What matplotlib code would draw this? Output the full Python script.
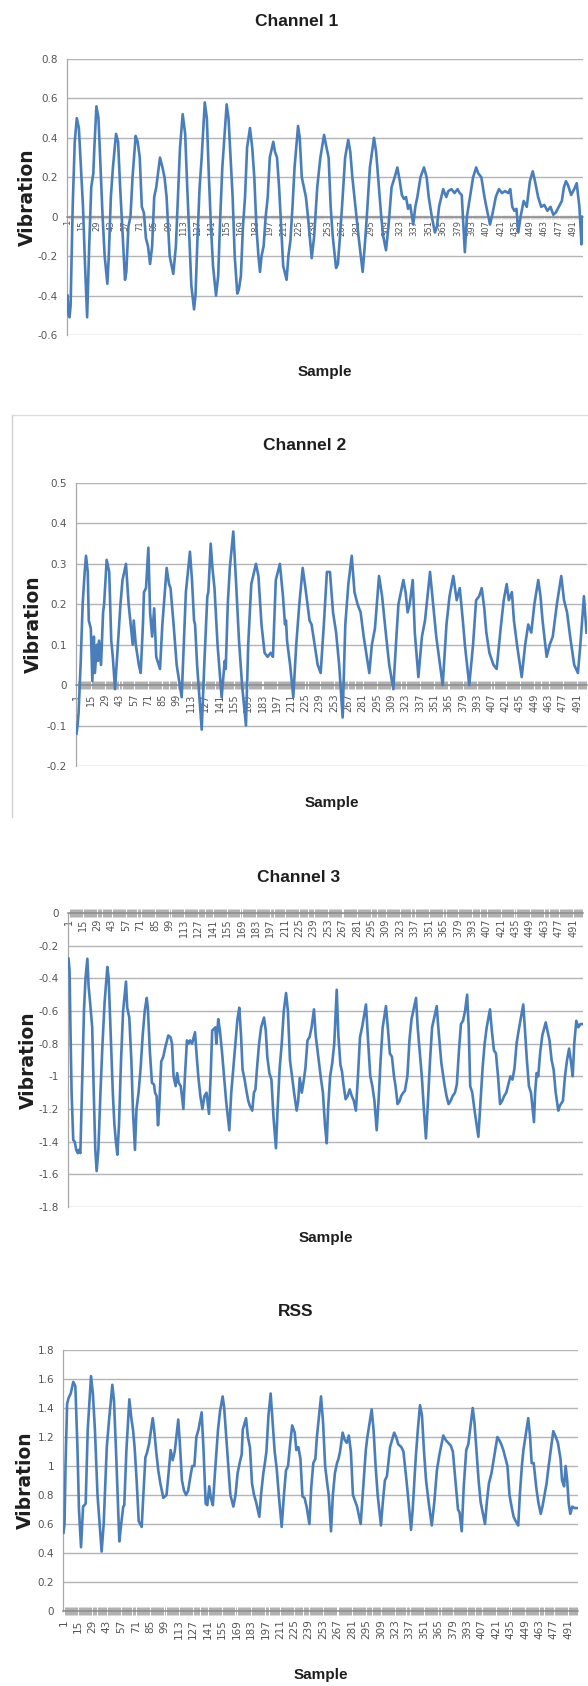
import matplotlib
matplotlib.use("Agg")
import numpy as np
import matplotlib.pyplot as plt
from matplotlib import font_manager as fm
from matplotlib.ticker import MultipleLocator
from matplotlib.lines import Line2D

plt.rcParams['axes.unicode_minus'] = False

# ---------------- data (sample index, vibration) -------------
tick_samples = [1, 15, 29, 43, 57, 71, 85, 99, 113, 127, 141, 155, 169, 183, 197, 211,
                225, 239, 253, 267, 281, 295, 309, 323, 337, 351, 365, 379, 393, 407,
                421, 435, 449, 463, 477, 491]
tick_labels = ["1", "15", "29", "43", "57", "71", "85", "99", "113", "127", "141", "155",
               "169", "183", "197", "211", "225", "239", "253", "267", "281", "295",
               "309", "323", "337", "351", "365", "379", "393", "407", "421", "435",
               "449", "463", "477", "491"]

ch1_sample = [1, 2, 3, 4, 6, 8, 10, 12, 14, 16, 18, 20, 22, 24, 26, 27, 29, 31, 33, 35, 37, 39.6,
              41, 43, 45, 48, 50, 52, 54, 56.7, 58, 60, 62, 64, 67, 69, 71, 73, 75, 77, 79, 81,
              83, 85, 87, 90.6, 93, 95, 97, 100, 103.5, 106, 108, 110, 112.6, 115, 117, 119,
              121, 123.6, 125, 127, 129, 131, 134, 136, 138, 140, 142, 144.9, 147, 149, 151,
              155.2, 157, 159, 161, 163, 165.5, 167, 169, 171, 173, 175, 177.8, 180, 182, 184,
              186, 187.5, 189, 191, 193, 195, 197, 200.4, 202, 204, 206, 208, 210, 213.3, 215,
              217, 219, 221, 224.4, 226, 228, 230, 232, 234, 237.6, 240, 243, 246, 249.6, 252,
              254, 256, 258, 261.2, 263, 265, 267, 270, 273, 275, 277, 280, 283, 287, 289, 291,
              294, 298, 300, 302, 305, 307, 309.6, 312, 315, 318, 320.6, 323, 325, 327, 329,
              331, 333, 336, 338, 340, 343, 346.4, 349, 351, 354, 357, 359, 361, 365, 368, 370,
              373, 376, 379, 381, 383, 386, 388, 391, 394, 397, 399, 402, 405, 408, 410.4, 413,
              416, 419, 422, 425, 428, 430, 432, 434, 436, 437.8, 440, 443, 446, 449, 451.8,
              454, 457, 460, 463, 466, 469, 471.7, 474, 477, 480, 482, 484, 486, 489, 492,
              494.4, 497, 499, 500]
ch1_value = [-0.40, -0.50, -0.51, -0.45, 0.05, 0.38, 0.50, 0.45, 0.25, 0.05, -0.25, -0.51, -0.15,
             0.15, 0.22, 0.35, 0.56, 0.50, 0.25, 0.00, -0.20, -0.34, -0.20, 0.10, 0.25, 0.42,
             0.38, 0.15, -0.05, -0.32, -0.28, -0.05, 0.00, 0.20, 0.41, 0.38, 0.30, 0.05, 0.02,
             -0.11, -0.15, -0.24, -0.15, 0.10, 0.15, 0.30, 0.25, 0.20, 0.10, -0.20, -0.29, -0.15,
             0.10, 0.35, 0.52, 0.42, 0.15, -0.10, -0.35, -0.47, -0.40, -0.10, 0.15, 0.30, 0.58,
             0.50, 0.20, -0.05, -0.25, -0.40, -0.30, 0.00, 0.25, 0.57, 0.50, 0.30, 0.10, -0.20,
             -0.39, -0.37, -0.30, -0.05, 0.10, 0.35, 0.45, 0.35, 0.20, -0.05, -0.20, -0.28,
             -0.20, -0.15, 0.00, 0.10, 0.30, 0.38, 0.33, 0.30, 0.15, -0.05, -0.25, -0.32, -0.20,
             -0.12, 0.05, 0.25, 0.46, 0.40, 0.20, 0.15, 0.10, 0.00, -0.21, -0.10, 0.15, 0.30,
             0.415, 0.35, 0.30, 0.05, -0.10, -0.26, -0.24, -0.10, 0.05, 0.30, 0.39, 0.33, 0.20,
             0.05, -0.10, -0.28, -0.15, 0.00, 0.25, 0.40, 0.33, 0.20, 0.00, -0.10, -0.17, -0.05,
             0.15, 0.20, 0.25, 0.18, 0.11, 0.09, 0.10, 0.04, 0.06, -0.04, 0.05, 0.10, 0.20,
             0.25, 0.20, 0.10, 0.00, -0.08, -0.05, 0.05, 0.14, 0.10, 0.13, 0.14, 0.12, 0.14,
             0.12, 0.11, -0.18, 0.00, 0.10, 0.20, 0.25, 0.22, 0.20, 0.10, 0.02, -0.04, 0.02,
             0.10, 0.14, 0.12, 0.13, 0.12, 0.14, 0.05, 0.03, 0.04, -0.08, 0.00, 0.08, 0.05,
             0.18, 0.23, 0.18, 0.10, 0.05, 0.06, 0.03, 0.05, 0.01, 0.02, 0.05, 0.08, 0.15, 0.18,
             0.16, 0.11, 0.14, 0.17, 0.05, -0.14, 0.00]

ch2_sample = [1, 2, 3, 5, 7, 9, 10.3, 12, 13, 15, 16.5, 18, 19, 21, 22, 23, 25, 27, 28, 30.5, 33,
              35, 36.5, 38.7, 41, 44, 46, 49.4, 52, 54, 56, 57, 59, 62, 63.8, 66, 67, 69, 71.3,
              73, 75, 77, 79, 82.7, 85, 86.5, 89.2, 91.5, 93, 96, 99, 103.9, 106, 108, 112, 114,
              116, 117, 119, 123.5, 126, 129, 130, 132.3, 134, 136, 139, 143, 146, 147, 149,
              151, 154.4, 157, 160, 163, 166.8, 169, 172, 176.6, 179, 182, 185, 188, 191, 193.2,
              196, 200, 203, 205, 206, 207, 210, 213.1, 216, 219, 222.3, 225, 228, 229, 231,
              234, 237, 239.9, 243, 246, 249, 252, 255, 258, 261.4, 264, 267, 270.3, 273, 276,
              279, 282, 287.5, 290, 293, 297, 300, 304, 307, 311, 314, 316, 320.8, 323, 325,
              327, 330, 332, 335.5, 339, 342, 346.9, 350, 353, 359.3, 363, 366, 369.7, 373, 376,
              379, 381, 385.3, 389, 392, 395, 397.5, 400, 402, 405, 409, 412.1, 416, 419, 421.9,
              424, 427, 429, 432, 436.6, 440, 443, 446, 449, 452.8, 455, 457, 461, 464, 467,
              471, 475.3, 478, 481, 484, 488, 491.6, 494, 497.5, 500]
ch2_value = [-0.12, -0.10, -0.07, 0.05, 0.20, 0.28, 0.32, 0.28, 0.16, 0.14, 0.01, 0.12, 0.03,
             0.10, 0.06, 0.11, 0.05, 0.18, 0.20, 0.31, 0.28, 0.11, 0.07, -0.01, 0.08, 0.20, 0.26,
             0.30, 0.20, 0.15, 0.10, 0.16, 0.10, 0.05, 0.03, 0.15, 0.23, 0.24, 0.34, 0.18, 0.12,
             0.19, 0.07, 0.04, 0.15, 0.20, 0.29, 0.25, 0.24, 0.15, 0.05, -0.03, 0.10, 0.23, 0.33,
             0.26, 0.16, 0.15, 0.05, -0.11, 0.05, 0.22, 0.23, 0.35, 0.29, 0.24, 0.10, -0.03,
             0.06, 0.04, 0.20, 0.29, 0.38, 0.26, 0.11, 0.00, -0.10, 0.10, 0.25, 0.30, 0.27,
             0.15, 0.08, 0.07, 0.08, 0.07, 0.26, 0.30, 0.22, 0.15, 0.16, 0.11, 0.05, -0.03, 0.10,
             0.20, 0.29, 0.24, 0.18, 0.16, 0.15, 0.10, 0.05, 0.03, 0.15, 0.28, 0.28, 0.18, 0.13,
             0.05, -0.08, 0.15, 0.25, 0.32, 0.23, 0.20, 0.18, 0.12, 0.03, 0.10, 0.14, 0.27, 0.22,
             0.12, 0.05, -0.01, 0.12, 0.20, 0.26, 0.23, 0.18, 0.20, 0.26, 0.13, 0.02, 0.12, 0.16,
             0.28, 0.20, 0.12, 0.00, 0.15, 0.22, 0.27, 0.21, 0.24, 0.16, 0.10, 0.00, 0.10, 0.21,
             0.22, 0.24, 0.19, 0.13, 0.08, 0.05, 0.04, 0.14, 0.21, 0.25, 0.21, 0.23, 0.16, 0.10,
             0.02, 0.10, 0.15, 0.13, 0.20, 0.26, 0.22, 0.16, 0.07, 0.10, 0.12, 0.20, 0.27, 0.21,
             0.18, 0.12, 0.05, 0.03, 0.10, 0.22, 0.13]

ch3_sample = [1, 2, 3, 4, 5.6, 7, 8.5, 10, 11, 12.5, 14, 16, 17.5, 19.3, 20.5, 22, 24, 25.5, 27,
              28.3, 30, 32, 34, 36, 38.7, 40, 42, 44, 45.5, 47, 48.4, 50, 52, 54, 56.8, 58, 60,
              62, 63.5, 65.5, 67, 69, 71, 73, 75, 76.9, 78, 80, 82, 84, 85, 86.5, 87.9, 89, 91,
              93, 95, 97.9, 100, 101.5, 103, 105, 106.5, 108, 110, 112.5, 114, 116, 117.5, 119,
              121, 123.8, 125.5, 127, 129, 131, 133, 135, 137.4, 139, 140.5, 142, 143.5, 144.5,
              146.4, 148, 150, 152, 154, 157.1, 159, 161, 163, 165, 166.8, 168.5, 170, 172,
              173.5, 175.5, 177, 179.4, 181, 182.5, 184, 186, 188, 190.8, 192.5, 194, 196, 198,
              200, 202.4, 204, 206, 208, 210, 212.2, 214, 216, 218, 220, 222.5, 224, 225.5,
              227.5, 229.5, 231, 233, 235, 237, 239.3, 241, 243.5, 246, 248, 250, 251.7, 253,
              255, 257, 259, 261.4, 263, 265, 266.5, 268, 270, 272, 274, 276, 278, 280, 282,
              284, 286, 289.8, 292, 294, 296, 298, 300.2, 302, 304, 306, 309.2, 311, 313, 315,
              317, 318.5, 320.5, 322.5, 324, 326, 327.5, 330, 332, 334, 338.4, 340, 342, 344,
              346, 348, 350, 352, 354, 358.5, 360, 363, 366, 368, 370, 372, 374, 376.2, 378,
              380, 382, 384, 386, 388, 389.5, 391, 393, 395, 398.9, 401, 403, 405, 407, 410.2,
              412, 414, 416, 418, 420, 422, 424, 426, 428, 430, 432, 434, 436, 438, 442.5, 444,
              446, 448, 450, 452.9, 454, 455.5, 457, 459, 461, 464.3, 466, 468, 470, 472, 474,
              476.5, 478, 481, 483, 485, 487, 489, 490.5, 492, 494, 496, 498, 500]
ch3_value = [-0.28, -0.35, -0.75, -1.10, -1.39, -1.40, -1.45, -1.47, -1.45, -1.47, -1.10, -0.60,
             -0.40, -0.28, -0.45, -0.55, -0.70, -1.10, -1.45, -1.58, -1.45, -1.10, -0.80, -0.55,
             -0.33, -0.40, -0.75, -1.10, -1.29, -1.40, -1.48, -1.30, -0.90, -0.60, -0.42, -0.58,
             -0.64, -0.90, -1.20, -1.45, -1.20, -1.10, -0.95, -0.75, -0.60, -0.52, -0.58, -0.85,
             -1.04, -1.05, -1.10, -1.12, -1.30, -1.20, -0.91, -0.88, -0.82, -0.75, -0.76, -0.80,
             -1.00, -1.06, -0.98, -1.04, -1.06, -1.20, -1.00, -0.78, -0.80, -0.78, -0.80, -0.73,
             -0.88, -1.00, -1.12, -1.20, -1.12, -1.10, -1.23, -1.00, -0.72, -0.71, -0.70, -0.80,
             -0.65, -0.72, -0.85, -1.00, -1.15, -1.33, -1.10, -0.95, -0.80, -0.65, -0.58, -0.75,
             -0.96, -1.02, -1.08, -1.15, -1.18, -1.21, -1.10, -1.08, -0.95, -0.80, -0.70, -0.64,
             -0.72, -0.88, -0.98, -1.02, -1.25, -1.44, -1.20, -0.95, -0.80, -0.60, -0.49, -0.60,
             -0.90, -1.00, -1.10, -1.21, -1.15, -1.01, -1.10, -1.02, -0.95, -0.78, -0.76, -0.70,
             -0.59, -0.75, -0.88, -1.01, -1.10, -1.30, -1.41, -1.20, -1.00, -0.92, -0.80, -0.47,
             -0.75, -0.93, -0.97, -1.05, -1.14, -1.12, -1.08, -1.12, -1.15, -1.21, -1.00, -0.76,
             -0.70, -0.56, -0.80, -1.00, -1.06, -1.15, -1.33, -1.15, -0.90, -0.70, -0.57, -0.70,
             -0.86, -0.88, -1.00, -1.06, -1.17, -1.15, -1.12, -1.10, -1.09, -1.00, -0.78, -0.65,
             -0.52, -0.70, -0.85, -1.00, -1.20, -1.38, -1.15, -0.90, -0.70, -0.57, -0.70, -0.92,
             -1.05, -1.12, -1.17, -1.15, -1.12, -1.10, -1.05, -0.85, -0.68, -0.66, -0.60, -0.50,
             -0.70, -1.06, -1.10, -1.20, -1.37, -1.15, -0.95, -0.80, -0.70, -0.59, -0.72, -0.84,
             -0.86, -1.00, -1.17, -1.15, -1.12, -1.10, -1.05, -1.00, -1.02, -0.95, -0.80, -0.72,
             -0.56, -0.70, -0.90, -1.06, -1.10, -1.28, -1.10, -0.98, -1.00, -0.85, -0.75, -0.67,
             -0.72, -0.78, -0.90, -0.96, -1.10, -1.21, -1.18, -1.15, -1.00, -0.90, -0.83, -0.92,
             -1.00, -0.80, -0.66, -0.70, -0.68, -0.68]

rss_sample = [1, 2, 3, 4.5, 6, 8, 10.5, 12.5, 14.5, 16, 18, 20, 22.5, 24.5, 27.7, 29.5, 31.5, 34,
              38, 40, 43, 45, 48.4, 50, 52, 55.2, 57, 59, 60, 62, 64.9, 67, 68.5, 70, 72, 74,
              76.9, 78.5, 80.5, 82, 84, 87.6, 89, 91, 93, 95, 97.9, 101, 103, 105, 107, 109,
              112.4, 114, 116, 118, 120, 122, 124, 126, 128, 130, 132, 135.1, 137, 139, 140.6,
              142.5, 144, 146, 148, 151, 153, 155.5, 157, 159, 161, 163, 165.9, 168, 170, 172,
              174, 175, 178.2, 180, 182, 184, 186, 188, 191.1, 193, 195, 196.5, 198, 200, 202.1,
              204, 206, 208, 210, 212.8, 215, 217, 219, 221, 223, 225.5, 227, 229, 231, 233,
              235, 237, 239.7, 241.5, 243.5, 245.5, 247, 251, 253, 255, 257, 258.5, 260.7,
              262.5, 264.5, 266.5, 268, 269.5, 272, 274, 276, 278, 280, 282, 284, 286, 289.5,
              292, 294.5, 296, 300.2, 302, 304, 306, 309.2, 311, 313, 315, 318, 322, 324, 326,
              329, 331, 334, 336, 338.4, 340, 343, 345, 347.1, 349, 351, 353, 355.5, 358.5, 361,
              363.5, 366, 369.7, 372, 374.5, 377, 379, 381.5, 384, 385.5, 387.6, 389.5, 392,
              394, 398.3, 400, 402, 404, 406, 410.2, 412, 414, 416.5, 419, 422.2, 424, 426, 428,
              430.5, 432, 434, 436, 438, 440, 442.5, 444, 446, 447.5, 452.2, 454, 455.5, 457.5,
              460, 462, 464.3, 466, 468, 470, 472, 476.5, 479, 481, 483.5, 485, 487, 488.5, 490,
              491.5, 493, 495, 497, 500]
rss_value = [0.54, 0.60, 1.02, 1.43, 1.47, 1.50, 1.58, 1.55, 1.13, 0.70, 0.44, 0.72, 0.74, 1.25,
             1.62, 1.50, 1.25, 0.80, 0.41, 0.60, 1.13, 1.30, 1.56, 1.45, 1.10, 0.48, 0.60, 0.72,
             0.73, 1.10, 1.46, 1.32, 1.25, 1.13, 0.90, 0.62, 0.58, 0.80, 1.06, 1.09, 1.15, 1.33,
             1.25, 1.10, 0.97, 0.88, 0.78, 0.80, 0.95, 1.11, 1.04, 1.10, 1.32, 1.15, 0.90, 0.83,
             0.80, 0.83, 0.92, 1.00, 1.00, 1.20, 1.25, 1.37, 1.10, 0.74, 0.73, 0.86, 0.78, 0.73,
             0.95, 1.25, 1.38, 1.48, 1.40, 1.20, 1.00, 0.80, 0.72, 0.80, 0.95, 1.02, 1.08, 1.25,
             1.33, 1.20, 1.13, 0.88, 0.80, 0.75, 0.65, 0.82, 0.95, 1.02, 1.10, 1.35, 1.50, 1.30,
             1.10, 0.98, 0.80, 0.58, 0.80, 0.97, 1.00, 1.15, 1.28, 1.23, 1.11, 1.13, 1.05, 0.79,
             0.78, 0.72, 0.60, 0.85, 1.02, 1.05, 1.20, 1.48, 1.30, 1.00, 0.88, 0.80, 0.55, 0.80,
             0.95, 1.02, 1.05, 1.10, 1.23, 1.18, 1.16, 1.21, 1.10, 0.80, 0.76, 0.72, 0.60, 0.85,
             1.11, 1.20, 1.39, 1.25, 1.00, 0.80, 0.59, 0.75, 0.90, 0.93, 1.13, 1.23, 1.20, 1.15,
             1.13, 1.10, 0.90, 0.75, 0.56, 0.70, 1.06, 1.25, 1.42, 1.35, 1.10, 0.90, 0.75, 0.59,
             0.75, 0.97, 1.08, 1.21, 1.18, 1.16, 1.14, 1.10, 0.90, 0.70, 0.68, 0.55, 0.85, 1.11,
             1.15, 1.40, 1.30, 1.10, 0.90, 0.75, 0.60, 0.75, 0.88, 0.95, 1.06, 1.20, 1.18, 1.15,
             1.11, 1.04, 1.00, 0.80, 0.72, 0.65, 0.62, 0.59, 0.80, 1.00, 1.11, 1.33, 1.20, 1.02,
             1.02, 0.85, 0.75, 0.67, 0.72, 0.80, 0.88, 1.00, 1.24, 1.20, 1.16, 1.05, 0.90, 0.86,
             1.00, 0.90, 0.74, 0.67, 0.72, 0.71, 0.71]

titles = ["Channel 1", "Channel 2", "Channel 3", "RSS"]
y_limits = [(-0.6, 0.8), (-0.2, 0.5), (-1.8, 0.0), (0.0, 1.8)]
y_steps = [0.2, 0.1, 0.2, 0.2]
series = [(ch1_sample, ch1_value), (ch2_sample, ch2_value),
          (ch3_sample, ch3_value), (rss_sample, rss_value)]
N_SAMPLES = 500

# ---------------- layout (pixels) ----------------
W, H = 588, 1686
layout = [
    dict(box=(67, 59, 583, 335), title_xy=(297, 22), sample_y=372, vib_x=27,
         xt_size=6.0, xt_pad=2.5, band=False),
    dict(box=(76, 483, 587, 766), title_xy=(305, 445), sample_y=803, vib_x=33,
         xt_size=7.0, xt_pad=6, band=True),
    dict(box=(68, 913, 583, 1207), title_xy=(299, 878), sample_y=1238, vib_x=28,
         xt_size=7.0, xt_pad=4, band=True),
    dict(box=(63, 1350, 578, 1611), title_xy=(296, 1312), sample_y=1675, vib_x=25,
         xt_size=7.5, xt_pad=6, band=True),
]

names = {f.name for f in fm.fontManager.ttflist}
if 'Liberation Sans Narrow' in names:
    HEAD_FAMILY, TITLE_SIZE, SAMPLE_SIZE = 'Liberation Sans Narrow', 14.5, 12.8
else:
    HEAD_FAMILY, TITLE_SIZE, SAMPLE_SIZE = 'Liberation Sans', 12.5, 11.0

LINE_C = '#4a7ebb'
GRID_C = '#b4b4b4'
AXIS_C = '#8c8c8c'
TXT_C = '#555555'

fig = plt.figure(figsize=(W / 100, H / 100), dpi=100)
fig.patch.set_facecolor('white')


def fx(x):
    return x / W


def fy(y):
    return 1 - y / H


def fmt(v):
    v = round(v, 1)
    if abs(v) < 1e-9:
        return "0"
    return f"{v:g}"


for (xs, ys), title, ylim, ystep, lay in zip(series, titles, y_limits, y_steps, layout):
    l, t, r, b = lay['box']
    ax = fig.add_axes([fx(l), fy(b), (r - l) / W, (b - t) / H])
    ax.set_xlim(0.5, N_SAMPLES + 0.5)
    ax.set_ylim(*ylim)
    ax.set_axisbelow(True)

    yt = np.round(np.arange(ylim[0], ylim[1] + ystep / 2, ystep), 2)
    ax.set_yticks(yt)
    ax.set_yticklabels([fmt(v) for v in yt])
    ax.tick_params(axis='y', length=0, pad=6.5, labelsize=7.5, labelcolor=TXT_C)
    ax.yaxis.grid(True, color=GRID_C, lw=1.0)
    ax.xaxis.grid(False)

    ax.set_xticks(tick_samples)
    ax.set_xticklabels(tick_labels)
    ax.tick_params(axis='x', which='major', length=0, pad=lay['xt_pad'],
                   labelsize=lay['xt_size'], labelcolor=TXT_C, labelrotation=90)
    ax.xaxis.set_minor_locator(MultipleLocator(1))
    if lay['band']:
        ax.tick_params(axis='x', which='minor', direction='inout', length=6,
                       width=0.55, color='#9a9a9a')
    else:
        ax.tick_params(axis='x', which='minor', direction='inout', length=3,
                       width=0.4, color='#c4c4c4')

    ax.spines['bottom'].set_position(('data', 0))
    ax.spines['bottom'].set_color(AXIS_C)
    ax.spines['bottom'].set_linewidth(1.1)
    ax.spines['left'].set_color('#a8a8a8')
    ax.spines['left'].set_linewidth(0.9)
    ax.spines['top'].set_visible(False)
    ax.spines['right'].set_visible(False)
    ax.set_facecolor('none')

    ax.plot(xs, ys, color=LINE_C, lw=1.9, solid_joinstyle='round', zorder=3)

    tx, ty = lay['title_xy']
    fig.text(fx(tx), fy(ty), title, ha='center', va='center', family=HEAD_FAMILY,
             weight='bold', fontsize=TITLE_SIZE, color='#1e1e1e')
    fig.text(fx((l + r) / 2), fy(lay['sample_y']), "Sample", ha='center', va='center',
             family=HEAD_FAMILY, weight='bold', fontsize=SAMPLE_SIZE, color='#1e1e1e')
    fig.text(fx(lay['vib_x']), fy((t + b) / 2), "Vibration", ha='center', va='center',
             rotation=90, family='DejaVu Sans', weight='bold', fontsize=13.5,
             color='#1e1e1e')

# light frame around the second chart (left and top edges visible)
fig.add_artist(Line2D([fx(12), fx(12)], [fy(415), fy(817)], transform=fig.transFigure,
                      color='#d0d0d0', lw=1.0))
fig.add_artist(Line2D([fx(12), fx(588)], [fy(415), fy(415)], transform=fig.transFigure,
                      color='#dcdcdc', lw=1.0))

fig.savefig("out.png", dpi=100, facecolor='white')
